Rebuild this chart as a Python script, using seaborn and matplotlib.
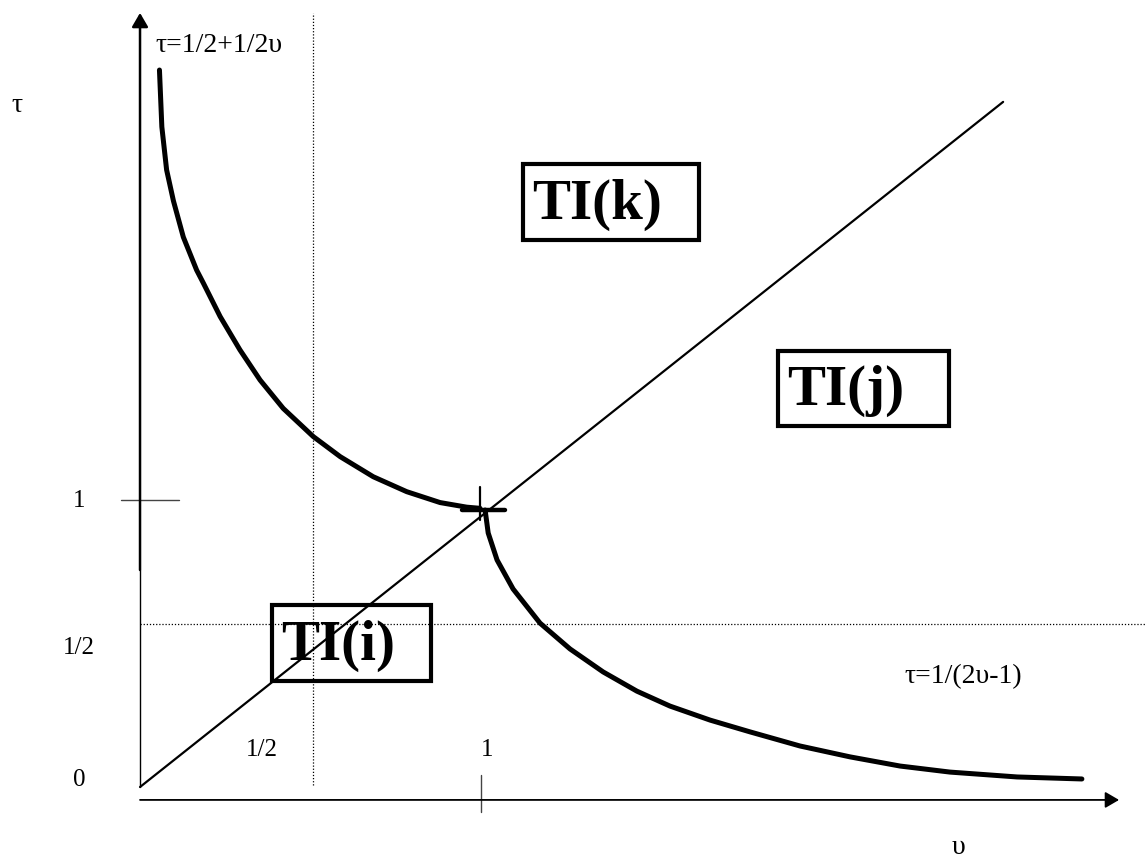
import matplotlib
matplotlib.use("Agg")
import matplotlib.pyplot as plt
import matplotlib.patches as mpatches
import numpy as np
import pandas as pd
import seaborn as sns

# Region boundaries in the (upsilon, tau) plane
upper_u = [0.057, 0.064, 0.078, 0.098, 0.127, 0.166, 0.186, 0.235, 0.293,
           0.352, 0.420, 0.508, 0.587, 0.684, 0.782, 0.880, 0.958, 0.997]
upper_t = [2.498, 2.300, 2.150, 2.042, 1.916, 1.801, 1.755, 1.639, 1.523,
           1.418, 1.319, 1.221, 1.151, 1.081, 1.029, 0.991, 0.975, 0.971]

lower_u = [1.012, 1.021, 1.047, 1.094, 1.173, 1.261, 1.358, 1.457, 1.554,
           1.672, 1.789, 1.935, 2.082, 2.229, 2.375, 2.572, 2.762]
lower_t = [0.965, 0.885, 0.791, 0.690, 0.571, 0.481, 0.401, 0.334, 0.282,
           0.233, 0.192, 0.143, 0.105, 0.073, 0.052, 0.035, 0.028]

diag_u = [0.0, 2.531]
diag_t = [0.0, 2.387]

# Reference levels
half_u = 0.508
half_t = 0.568
one_u = 0.997

# Tick labels
ytick_labels = ["1", "1/2", "0"]
ytick_pos = [0.997, 0.484, 0.024]
xtick_labels = ["1/2", "1"]
xtick_pos = [0.358, 1.018]

# Region labels with their frames: (text, u0, u1, t0, t1)
regions = [
    ("TI(k)", 1.123, 1.639, 1.906, 2.171),
    ("TI(j)", 1.871, 2.372, 1.258, 1.519),
    ("TI(i)", 0.387, 0.853, 0.369, 0.634),
]

sns.set_theme(style="white")
plt.rcParams["font.family"] = ["Liberation Serif", "DejaVu Serif"]
plt.rcParams["text.color"] = "black"

fig = plt.figure(figsize=(11.46, 8.61), dpi=100)
ax = fig.add_axes([0, 0, 1, 1])
ax.set_xlim(-0.4106, 2.950)
ax.set_ylim(-0.2578, 2.742)
ax.axis("off")

# Coordinate axes with arrowheads
x_axis_t = -0.045
ax.plot([0, 0], [0.0, 0.756], color="black", lw=1.0)
ax.annotate("", xy=(0, 2.697), xytext=(0, 0.756),
            arrowprops=dict(arrowstyle="-|>,head_length=0.6,head_width=0.35",
                            mutation_scale=14, color="black", lw=1.8,
                            shrinkA=0, shrinkB=0))
ax.annotate("", xy=(2.871, x_axis_t), xytext=(0, x_axis_t),
            arrowprops=dict(arrowstyle="-|>,head_length=0.6,head_width=0.35",
                            mutation_scale=14, color="black", lw=1.3,
                            shrinkA=0, shrinkB=0))

# Tick marks
ax.plot([-0.056, 0.114], [1.0, 1.0], color="#444444", lw=1.0)
ax.plot([1.0, 1.0], [0.042, -0.087], color="#444444", lw=1.0)

# Dotted guide lines
ax.plot([half_u, half_u], [0.007, 2.697], color="black", lw=0.9, ls=(0, (1, 1.5)))
ax.plot([0, 2.95], [half_t, half_t], color="black", lw=0.9, ls=(0, (1, 1.5)))

# Diagonal and boundary curves
sns.lineplot(x=diag_u, y=diag_t, ax=ax, color="black", lw=1.6, sort=False)
sns.lineplot(x=upper_u, y=upper_t, ax=ax, color="black", lw=3.6, sort=False,
             solid_joinstyle="round")
sns.lineplot(x=lower_u, y=lower_t, ax=ax, color="black", lw=3.6, sort=False,
             solid_joinstyle="round")

# Cross marker at the meeting point
ax.plot([one_u, one_u], [0.930, 1.045], color="black", lw=1.6)
ax.plot([0.944, 1.070], [0.965, 0.965], color="black", lw=3.2)

# Axis names and curve formulas
ax.text(-0.361, 2.376, "τ", fontsize=20, ha="center", va="center", color="black")
ax.text(2.399, -0.2125, "υ", fontsize=20, ha="center", va="center", color="black")
ax.text(0.044, 2.585, "τ=1/2+1/2υ", fontsize=20, ha="left", va="center", color="black")
ax.text(2.243, 0.383, "τ=1/(2υ-1)", fontsize=20, ha="left", va="center", color="black")

for lab, pos in zip(ytick_labels, ytick_pos):
    ax.text(-0.179, pos, lab, fontsize=18, ha="center", va="center", color="black")
for lab, pos in zip(xtick_labels, xtick_pos):
    ax.text(pos, 0.129, lab, fontsize=18, ha="center", va="center", color="black")

# Framed region labels
for lab, u0, u1, t0, t1 in regions:
    ax.add_patch(mpatches.Rectangle((u0, t0), u1 - u0, t1 - t0, fill=False,
                                    edgecolor="black", lw=3.0))
    ax.text(u0 + 0.027, (t0 + t1) / 2 - 0.01, lab, fontsize=41,
            fontweight="bold", ha="left", va="center", color="black")

fig.savefig("out.png", dpi=100)
